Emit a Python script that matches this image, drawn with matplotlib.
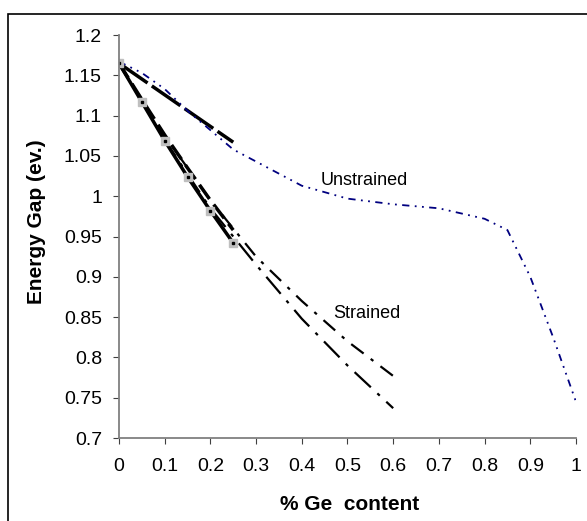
import numpy as np
import matplotlib
matplotlib.use("Agg")
from matplotlib import pyplot as plt
from matplotlib.patches import Rectangle

plt.rcParams['font.family'] = ['Liberation Sans', 'DejaVu Sans']

# unstrained (blue curve)
x_unstr = [0, 0.05, 0.1, 0.15, 0.2, 0.25, 0.3, 0.4, 0.5, 0.6, 0.7, 0.8, 0.85, 0.9, 0.95, 1.0]
y_unstr = [1.167, 1.153, 1.133, 1.106, 1.082, 1.058, 1.043, 1.013, 0.997, 0.99, 0.985, 0.972, 0.958,
           0.9, 0.825, 0.745]

# strained lines
x_short = [0, 0.25]
y_long_dash = [1.165, 1.067]

x_mark = [0, 0.05, 0.1, 0.15, 0.2, 0.25]
y_mark = [1.165, 1.117, 1.069, 1.024, 0.982, 0.942]
y_thick_dash = [1.165, 1.12, 1.076, 1.035, 0.995, 0.958]

x_long = [0, 0.1, 0.2, 0.3, 0.4, 0.5, 0.6]
y_dashdot_upper = [1.165, 1.075, 0.995, 0.925, 0.87, 0.82, 0.777]
y_dashdot_lower = [1.165, 1.07, 0.985, 0.915, 0.848, 0.79, 0.737]

yticks = [0.7, 0.75, 0.8, 0.85, 0.9, 0.95, 1, 1.05, 1.1, 1.15, 1.2]
ytick_labels = ['0.7', '0.75', '0.8', '0.85', '0.9', '0.95', '1', '1.05', '1.1', '1.15', '1.2']
xticks = [0, 0.1, 0.2, 0.3, 0.4, 0.5, 0.6, 0.7, 0.8, 0.9, 1]
xtick_labels = ['0', '0.1', '0.2', '0.3', '0.4', '0.5', '0.6', '0.7', '0.8', '0.9', '1']

fig = plt.figure(figsize=(5.87, 5.21), dpi=100)
ax = fig.add_axes([0.2027, 0.1593, 0.7785, 0.7735])

ax.plot(x_long, y_dashdot_upper, color='black', lw=1.6, linestyle=(0, (7, 4, 1.5, 4)))
ax.plot(x_long, y_dashdot_lower, color='black', lw=1.6, linestyle=(0, (10, 4, 1.5, 4)))
ax.plot(x_mark, y_thick_dash, color='black', lw=2.5, linestyle=(0, (5, 2)))
ax.plot(x_short, y_long_dash, color='black', lw=2.5, linestyle=(0, (10, 1.5)))
ax.plot(x_unstr, y_unstr, color='#000080', lw=1.3, linestyle=(0, (4, 3, 1, 3, 1, 3)))
ax.plot(x_mark, y_mark, color='black', lw=2.5, marker='s', markersize=6,
        markerfacecolor='#bfbfbf', markeredgecolor='#bfbfbf')
ax.plot(x_mark, y_mark, color='black', lw=0, marker='s', markersize=2,
        markerfacecolor='black', markeredgecolor='black')

ax.text(0.442, 1.019, 'Unstrained', fontsize=13, va='center', ha='left')
ax.text(0.468, 0.855, 'Strained', fontsize=13, va='center', ha='left')

ax.set_xlim(0, 1)
ax.set_ylim(0.7, 1.2)
ax.set_xticks(xticks)
ax.set_xticklabels(xtick_labels, fontsize=14)
ax.set_yticks(yticks)
ax.set_yticklabels(ytick_labels, fontsize=14)
ax.tick_params(axis='both', direction='out', length=4.3, color='#404040')
ax.tick_params(axis='x', pad=10)
ax.tick_params(axis='y', pad=8)

for s in ['top', 'right']:
    ax.spines[s].set_visible(False)
for s in ['left', 'bottom']:
    ax.spines[s].set_color('#808080')
    ax.spines[s].set_linewidth(1.3)

fig.text(349.5 / 587, 1 - 504 / 521, '% Ge  content', fontsize=15, fontweight='bold',
         ha='center', va='center')
fig.text(37 / 587, 1 - 222 / 521, 'Energy Gap (ev.)', fontsize=15, fontweight='bold',
         ha='center', va='center', rotation=90)

fig.patches.append(Rectangle((8 / 587, -0.05), 1.0, 1.05 - 14 / 521, transform=fig.transFigure,
                             fill=False, edgecolor='black', lw=1.2))

fig.savefig('out.png', dpi=100)
